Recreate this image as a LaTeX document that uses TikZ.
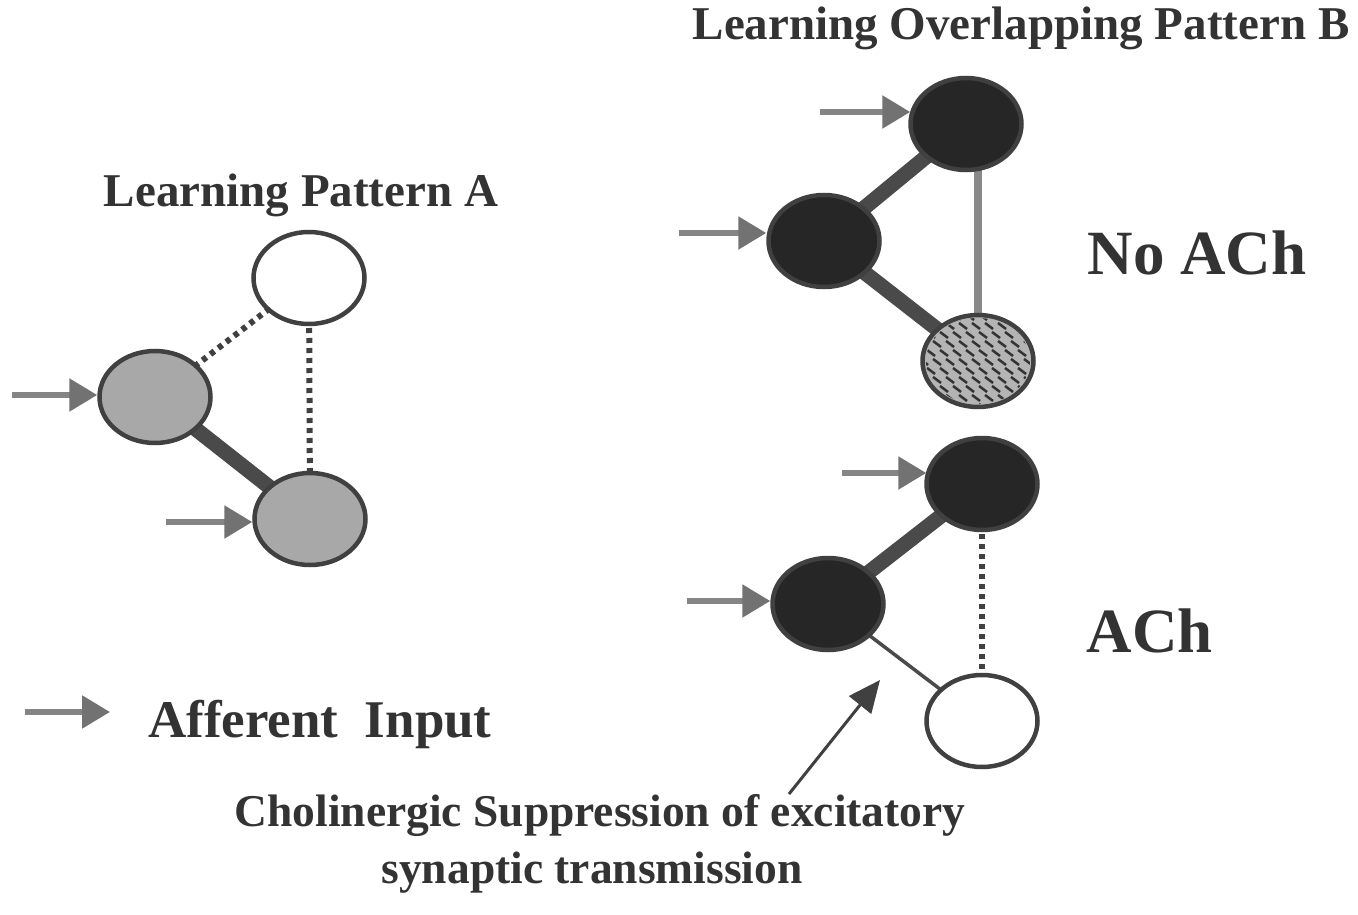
\documentclass[tikz,border=0pt]{standalone}
\usepackage{fontspec}
\setmainfont{Liberation Serif}
\usetikzlibrary{shapes.geometric,arrows.meta,backgrounds}

\definecolor{inkgray}{HTML}{333333}
\definecolor{rimgray}{HTML}{404040}
\definecolor{litgray}{HTML}{A8A8A8}
\definecolor{darkfill}{HTML}{262626}
\definecolor{hatchgray}{HTML}{B4B4B4}
\definecolor{edgegray}{HTML}{4A4A4A}
\definecolor{dotgray}{HTML}{404040}
\definecolor{palegray}{HTML}{888888}
\definecolor{arrowgray}{HTML}{858585}
\definecolor{headgray}{HTML}{727272}

\begin{document}
\begin{tikzpicture}[x=1pt,y=-1pt,
  cell/.style={ellipse, draw=rimgray, line width=4.5pt, inner sep=0pt,
               minimum width=111pt, minimum height=92pt},
  idle/.style={cell, fill=white},
  active/.style={cell, fill=litgray},
  fired/.style={cell, fill=darkfill},
  recalled/.style={cell, fill=hatchgray},
  strong/.style={draw=edgegray, line width=15pt},
  weak/.style={draw=dotgray, line width=6pt, dash pattern=on 5pt off 5pt},
  faint/.style={draw=palegray, line width=8pt},
  slim/.style={draw=edgegray, line width=3.5pt},
  afferent/.style={draw=arrowgray, line width=5.5pt,
                   -{Triangle[length=28pt,width=32pt,color=headgray]}},
  pointer/.style={draw=rimgray, line width=3pt,
                  -{Triangle[length=32pt,width=28pt]}},
  hatchmark/.style={draw=inkgray, line width=2.5pt},
  heading/.style={text=inkgray, inner sep=0pt, anchor=base,
                  font=\fontsize{47}{56}\selectfont\bfseries},
  notetext/.style={text=inkgray, inner sep=0pt, anchor=base,
                  font=\fontsize{45.5}{56}\selectfont\bfseries},
  bigtag/.style={text=inkgray, inner sep=0pt, anchor=base,
                 font=\fontsize{63}{70}\selectfont\bfseries},
  legendtext/.style={text=inkgray, inner sep=0pt, anchor=base west,
                     font=\fontsize{53}{60}\selectfont\bfseries}]

\useasboundingbox (0,0) rectangle (1358,915);

% ---------- Pattern A ----------
\node[idle]   (a1) at (309,278) {};
\node[active] (a2) at (155,397) {};
\node[active] (a3) at (310,519) {};

% ---------- Pattern B, no ACh ----------
\node[fired]    (b1) at (966,124) {};
\node[fired]    (b2) at (824,241) {};
\node[recalled] (b3) at (978,361) {};

% hatching inside the recalled cell
\begin{scope}
  \clip (b3.center) ellipse [x radius=52, y radius=43];
  \foreach \r in {0,...,10} {
    \foreach \c in {0,...,9} {
      \pgfmathsetmacro{\hx}{914+13*\c+6*mod(\r,2)}
      \pgfmathsetmacro{\hy}{314+9*\r}
      \draw[hatchmark] (\hx,\hy) -- ++(8,6);
    }
  }
\end{scope}

% ---------- Pattern B, with ACh ----------
\node[fired] (c1) at (982,484) {};
\node[fired] (c2) at (828,604) {};
\node[idle]  (c3) at (982,721) {};

% ---------- synapses, behind the cells ----------
\begin{pgfonlayer}{background}
  \draw[weak]   (a2.center) -- (a1.center);
  \draw[weak]   (a1.center) -- (a3.center);
  \draw[strong] (a2.center) -- (a3.center);

  \draw[strong] (b2.center) -- (b1.center);
  \draw[strong] (b2.center) -- (b3.center);
  \draw[faint]  (b3.center) -- (b3.center |- b1.center);

  \draw[strong] (c2.center) -- (c1.center);
  \draw[slim]   (c2.center) -- (c3.center);
  \draw[weak]   (c1.center) -- (c3.center);
\end{pgfonlayer}

% ---------- afferent inputs ----------
\coordinate (ia2) at (12,395);
\coordinate (ia3) at (166,522);
\coordinate (ib1) at (820,112);
\coordinate (ib2) at (679,233);
\coordinate (ic1) at (842,473);
\coordinate (ic2) at (687,601);
\draw[afferent] (ia2) -- (ia2 -| a2.west);
\draw[afferent] (ia3) -- (ia3 -| a3.west);
\draw[afferent] (ib1) -- ([xshift=2pt]ib1 -| b1.west);
\draw[afferent] (ib2) -- (ib2 -| b2.west);
\draw[afferent] (ic1) -- ([xshift=2pt]ic1 -| c1.west);
\draw[afferent] (ic2) -- (ic2 -| c2.west);

% legend arrow
\coordinate (lg0) at (25,712);
\coordinate (lg1) at (110,712);
\draw[afferent] (lg0) -- (lg1);

% pointer to the suppressed synapse
\coordinate (pt0) at (789,794);
\coordinate (pt1) at (880,680);
\draw[pointer] (pt0) -- (pt1);

% ---------- labels ----------
\node[heading] (titleA) at (301,207) {Learning Pattern A};
\node[heading] (titleB) at (1021,40) {Learning Overlapping Pattern B};
\node[bigtag]  (noach)  at (1197,274) {No ACh};
\node[bigtag]  (ach)    at (1150,652) {ACh};
\node[legendtext] (legend) at (148,737) {Afferent\hspace{0.5em}Input};
\node[notetext] (note1) at (600,826) {Cholinergic Suppression of excitatory};
\node[notetext] (note2) at (592,883) {synaptic transmission};

\end{tikzpicture}
\end{document}
